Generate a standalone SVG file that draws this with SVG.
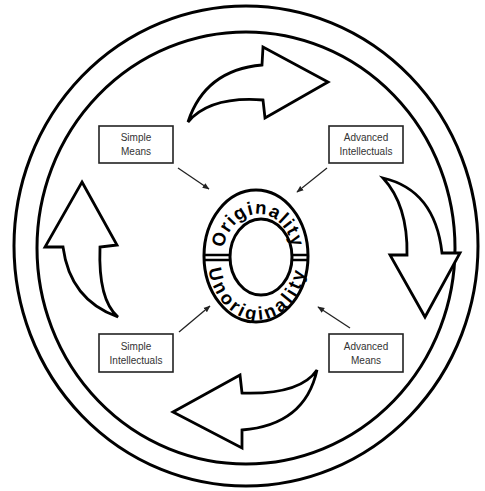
<svg xmlns="http://www.w3.org/2000/svg" width="485" height="491" viewBox="0 0 485 491">
<style>
.ring{fill:none;stroke:#000;stroke-width:3}
.big{fill:#fff;stroke:#000;stroke-width:2.8;stroke-linejoin:miter}
.box{fill:#fff;stroke:#222;stroke-width:1.6}
.lbl{font-family:"Liberation Sans",Arial,sans-serif;font-size:10px;fill:#333;text-anchor:middle}
.ctr{font-family:"Liberation Sans",Arial,sans-serif;font-size:18.5px;font-weight:bold;fill:#000}
.con{stroke:#222;stroke-width:1.3;fill:none;marker-end:url(#ah)}
</style>
<defs>
<marker id="ah" viewBox="0 0 10 10" refX="9" refY="5" markerWidth="7" markerHeight="7" orient="auto" markerUnits="userSpaceOnUse">
<path d="M0,1 L10,5 L0,9 Z" fill="#222"/>
</marker>
<path id="topArc" d="M223,256 A35,42 0 0 1 293,256"/>
<path id="botArc" d="M208,259 A49,61 0 0 0 306,259"/>
</defs>
<rect width="485" height="491" fill="#fff"/>
<g id="frame">
<ellipse class="ring" cx="246" cy="246" rx="232" ry="240"/>
<ellipse class="ring" cx="246" cy="248" rx="209" ry="216"/>
</g>
<g id="cycle-arrows">
<path class="big" d="M188,122 Q205,70 262,65 L263,47 L328,82 L265,118 L263,100 Q210,96 188,122 Z"/>
<path class="big" d="M383,178 Q435,190 442,253 L460,253 L425,317 L390,255 L407,255 Q408,205 383,178 Z"/>
<path class="big" d="M317,370 Q300,395 242,393 L240,375 L173,412 L242,448 L242,430 Q305,425 317,370 Z"/>
<path class="big" d="M82,182 L117,245 L100,247 Q98,300 118,317 Q70,300 63,247 L45,247 Z"/>
</g>
<g id="center">
<ellipse class="ring" cx="256" cy="256" rx="52" ry="66"/>
<ellipse class="ring" cx="261" cy="257" rx="31" ry="38"/>
<line x1="204" y1="255" x2="230" y2="255" stroke="#000" stroke-width="2.5"/>
<line x1="204" y1="260" x2="230" y2="260" stroke="#000" stroke-width="2.5"/>
<line x1="292" y1="255" x2="308" y2="255" stroke="#000" stroke-width="2.5"/>
<line x1="292" y1="260" x2="308" y2="260" stroke="#000" stroke-width="2.5"/>
<text class="ctr"><textPath href="#topArc" startOffset="8" textLength="104" lengthAdjust="spacing">Originality</textPath></text>
<text class="ctr"><textPath href="#botArc" startOffset="10" textLength="150" lengthAdjust="spacing">Unoriginality</textPath></text>
</g>
<g id="simple-means">
<rect class="box" x="99" y="126" width="74" height="37"/>
<text class="lbl" x="136" y="141">Simple</text>
<text class="lbl" x="136" y="155">Means</text>
</g>
<g id="advanced-intellectuals">
<rect class="box" x="329" y="126" width="74" height="37"/>
<text class="lbl" x="366" y="141">Advanced</text>
<text class="lbl" x="366" y="155">Intellectuals</text>
</g>
<g id="simple-intellectuals">
<rect class="box" x="99" y="334" width="74" height="38"/>
<text class="lbl" x="136" y="350">Simple</text>
<text class="lbl" x="136" y="364">Intellectuals</text>
</g>
<g id="advanced-means">
<rect class="box" x="329" y="334" width="74" height="38"/>
<text class="lbl" x="366" y="350">Advanced</text>
<text class="lbl" x="366" y="364">Means</text>
</g>
<g id="connectors">
<line class="con" x1="178" y1="168" x2="209" y2="189"/>
<line class="con" x1="327" y1="168" x2="297" y2="192"/>
<line class="con" x1="179" y1="332" x2="210" y2="306"/>
<line class="con" x1="350" y1="328" x2="318" y2="307"/>
</g>
</svg>
